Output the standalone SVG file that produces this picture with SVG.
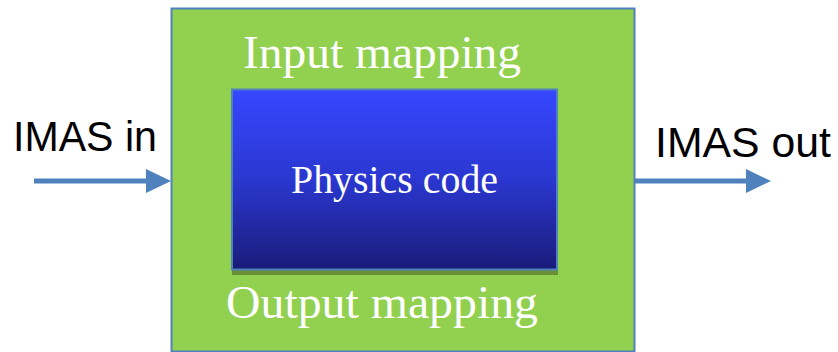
<svg xmlns="http://www.w3.org/2000/svg" width="838" height="352" viewBox="0 0 838 352">
<defs>
<linearGradient id="blueGrad" x1="0" y1="0" x2="0" y2="1">
<stop offset="0" stop-color="#3647FF"/>
<stop offset="0.5" stop-color="#2A37D0"/>
<stop offset="1" stop-color="#1A1C7A"/>
</linearGradient>
<style>
.sans{font-family:"Liberation Sans",Arial,sans-serif;fill:#000;}
.serif{font-family:"Liberation Serif","Times New Roman",serif;fill:#fff;}
.conn{stroke:#4F81BD;stroke-width:5;fill:none;}
.head{fill:#4F81BD;}
</style>
</defs>
<rect width="838" height="352" fill="#fff"/>
<g id="wrapper">
<rect x="171.5" y="8.5" width="463" height="343" fill="#92D050" stroke="#4F81BD" stroke-width="2"/>
<text class="serif" x="382" y="68" font-size="47" text-anchor="middle" textLength="278" lengthAdjust="spacingAndGlyphs">Input mapping</text>
<text class="serif" x="382" y="318" font-size="47" text-anchor="middle" textLength="312" lengthAdjust="spacingAndGlyphs">Output mapping</text>
</g>
<g id="physics">
<rect x="232" y="94" width="326" height="181" fill="#6A8E38"/>
<rect x="232" y="89.5" width="325" height="180" fill="url(#blueGrad)" stroke="#4F81BD" stroke-width="2"/>
<text class="serif" x="394.5" y="193" font-size="41" text-anchor="middle" textLength="207" lengthAdjust="spacingAndGlyphs">Physics code</text>
</g>
<g id="imas-in">
<text class="sans" x="13" y="151" font-size="42" textLength="144" lengthAdjust="spacingAndGlyphs">IMAS in</text>
</g>
<g id="imas-out">
<text class="sans" x="655" y="157" font-size="42" textLength="176" lengthAdjust="spacingAndGlyphs">IMAS out</text>
</g>
<g id="connectors">
<line class="conn" x1="34" y1="181" x2="148" y2="181"/>
<path class="head" d="M146,169 L171,181 L146,193 Z"/>
<line class="conn" x1="634" y1="181" x2="748" y2="181"/>
<path class="head" d="M746,169 L771,181 L746,193 Z"/>
</g>
</svg>
